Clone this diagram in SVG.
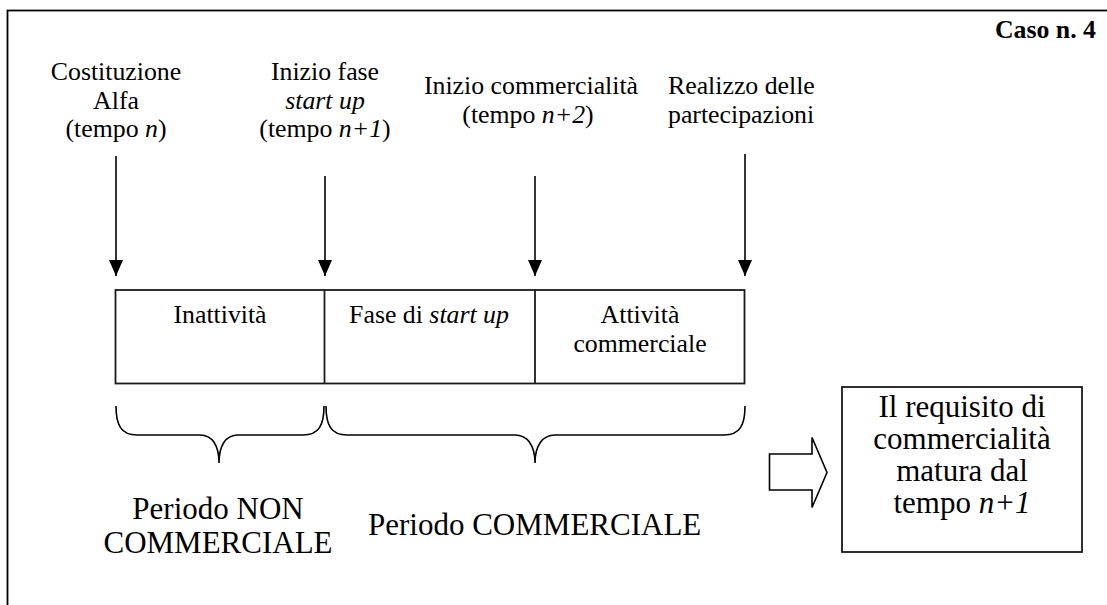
<svg xmlns="http://www.w3.org/2000/svg" width="1107" height="605" viewBox="0 0 1107 605">
<style>
text{font-family:"Liberation Serif","Times New Roman",serif;fill:#000}
.l{font-size:25.8px}
.b{font-size:31px}
.t{text-anchor:middle}
.i{font-style:italic}
.ln{stroke:#000;stroke-width:1.6;fill:none}
.bx{stroke:#1a1a1a;stroke-width:1.8;fill:#fff}
</style>
<defs>
<marker id="ah" markerWidth="16" markerHeight="14" refX="16" refY="7" orient="auto" markerUnits="userSpaceOnUse" viewBox="0 0 16 14">
<path d="M0,0 L16,7 L0,14 Z" fill="#000"/>
</marker>
</defs>
<rect x="0" y="0" width="1107" height="605" fill="#fff"/>
<rect id="frame" x="7.5" y="10.5" width="1120" height="620" fill="none" stroke="#000" stroke-width="1.8"/>

<g id="caso"><text x="1096" y="38" class="l" text-anchor="end" font-weight="bold">Caso n. 4</text></g>

<g id="lbl-costituzione">
<text class="l t" x="116" y="80">Costituzione</text>
<text class="l t" x="116" y="108.5">Alfa</text>
<text class="l t" x="116" y="137">(tempo <tspan class="i">n</tspan>)</text>
</g>
<g id="lbl-startup">
<text class="l t" x="325" y="80">Inizio fase</text>
<text class="l t i" x="325" y="108.5">start up</text>
<text class="l t" x="325" y="137">(tempo <tspan class="i">n+1</tspan>)</text>
</g>
<g id="lbl-commercialita">
<text class="l t" x="531" y="94">Inizio commercialità</text>
<text class="l t" x="528" y="122.5">(tempo <tspan class="i">n+2</tspan>)</text>
</g>
<g id="lbl-realizzo">
<text class="l" x="668" y="94">Realizzo delle</text>
<text class="l" x="668" y="122.5">partecipazioni</text>
</g>

<g id="connectors">
<line class="ln" x1="116" y1="156" x2="116" y2="276" marker-end="url(#ah)"/>
<line class="ln" x1="325" y1="176" x2="325" y2="276" marker-end="url(#ah)"/>
<line class="ln" x1="535" y1="176" x2="535" y2="276" marker-end="url(#ah)"/>
<line class="ln" x1="745" y1="154" x2="745" y2="276" marker-end="url(#ah)"/>
</g>

<g id="phases">
<rect class="bx" x="115.5" y="290" width="629" height="93.5"/>
<line x1="324.5" y1="290" x2="324.5" y2="383.5" stroke="#1a1a1a" stroke-width="1.8"/>
<line x1="535" y1="290" x2="535" y2="383.5" stroke="#1a1a1a" stroke-width="1.8"/>
</g>
<g id="inattivita"><text class="l t" x="220" y="323">Inattività</text></g>
<g id="fase-startup"><text class="l t" x="429" y="323">Fase di <tspan class="i">start up</tspan></text></g>
<g id="attivita">
<text class="l t" x="640" y="323">Attività</text>
<text class="l t" x="640" y="352">commerciale</text>
</g>

<g id="brace-non">
<path class="ln" d="M116,406 C116,425 121,435 137,435 L200,435 C212,435 219,445 219,463 C219,445 226,435 238,435 L303,435 C319,435 324,425 324,406"/>
</g>
<g id="brace-comm">
<path class="ln" d="M326,406 C326,425 331,435 347,435 L515,435 C527,435 535,445 535,463 C535,445 543,435 555,435 L724,435 C740,435 745,425 745,406"/>
</g>

<g id="periodo-non">
<text class="b t" x="218" y="519">Periodo NON</text>
<text class="b t" x="218" y="553">COMMERCIALE</text>
</g>
<g id="periodo-comm">
<text class="b" x="368" y="535">Periodo COMMERCIALE</text>
</g>

<g id="big-arrow">
<polygon points="769.5,454 812,454 812,437.5 827,472.5 812,507.5 812,490 769.5,490" fill="#fff" stroke="#000" stroke-width="1.6"/>
</g>

<g id="requisito">
<rect class="bx" x="842" y="387" width="240" height="165" stroke="#000"/>
<text class="b t" x="962" y="417">Il requisito di</text>
<text class="b t" x="962" y="449">commercialità</text>
<text class="b t" x="962" y="481">matura dal</text>
<text class="b t" x="962" y="513">tempo <tspan class="i">n+1</tspan></text>
</g>
</svg>
